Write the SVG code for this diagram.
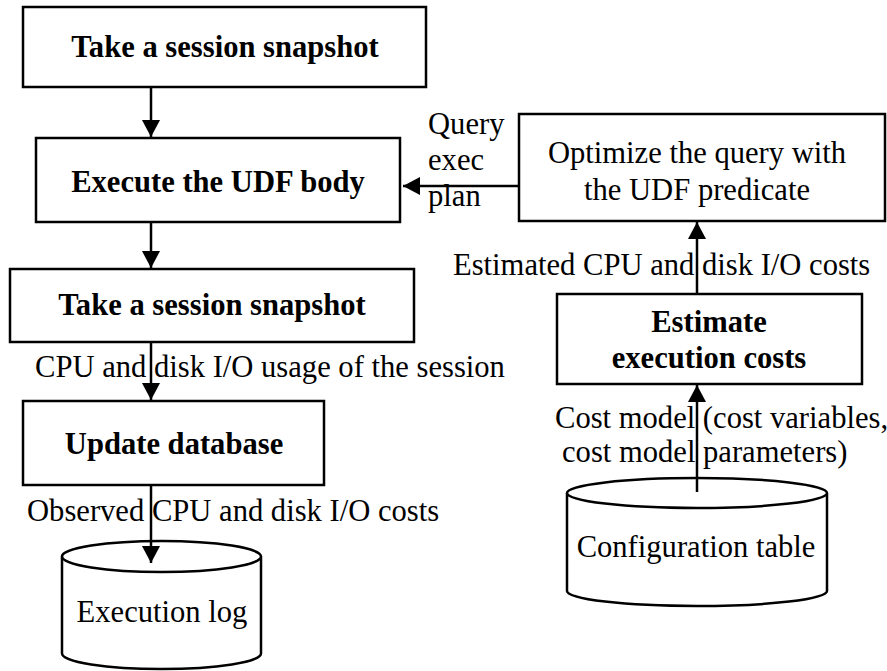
<svg xmlns="http://www.w3.org/2000/svg" width="887" height="671" viewBox="0 0 887 671">
<defs>
<style>
.box{fill:#fff;stroke:#000;stroke-width:2.5}
.cyl{fill:#fff;stroke:#000;stroke-width:2.5}
.t{font-family:"Liberation Serif","Times New Roman",serif;font-size:30.6px;fill:#000}
.b{font-weight:bold}
.m{text-anchor:middle}
.c{stroke:#000;stroke-width:2.5;fill:none;marker-end:url(#ah)}
</style>
<marker id="ah" markerUnits="userSpaceOnUse" viewBox="0 0 17 18" refX="17" refY="9" markerWidth="17" markerHeight="18" orient="auto">
<path d="M0,0 L17,9 L0,18 z" fill="#000"/>
</marker>
</defs>
<rect width="887" height="671" fill="#fff"/>
<g id="n1"><rect class="box" x="23" y="7" width="403" height="80"/><text class="t b m" x="225" y="57">Take a session snapshot</text></g>
<g id="n2"><rect class="box" x="36" y="138" width="364" height="84"/><text class="t b m" x="218" y="192">Execute the UDF body</text></g>
<g id="n3"><rect class="box" x="10" y="269" width="404" height="73"/><text class="t b m" x="212" y="315">Take a session snapshot</text></g>
<g id="n4"><rect class="box" x="23" y="401" width="301" height="84"/><text class="t b m" x="174" y="454">Update database</text></g>
<g id="log">
<path class="cyl" d="M62,556.5 L62,653.5 A99.5,15.5 0 0 0 261,653.5 L261,556.5"/>
<ellipse class="cyl" cx="161.5" cy="556.5" rx="99.5" ry="15.5"/>
<text class="t m" x="162" y="622">Execution log</text>
</g>
<g id="opt"><rect class="box" x="519" y="114" width="366" height="107"/><text class="t m" x="697" y="163">Optimize the query with</text><text class="t m" x="697" y="200">the UDF predicate</text></g>
<g id="est"><rect class="box" x="557" y="294" width="305" height="90"/><text class="t b m" x="709" y="332">Estimate</text><text class="t b m" x="709" y="368">execution costs</text></g>
<g id="cfg">
<path class="cyl" d="M567,493 L567,591 A130,15 0 0 0 827,591 L827,493"/>
<ellipse class="cyl" cx="697" cy="493" rx="130" ry="15"/>
<text class="t m" x="696" y="557">Configuration table</text>
</g>
<g id="labels">
<text class="t" x="428" y="134">Query</text>
<text class="t" x="428" y="170">exec</text>
<text class="t" x="428" y="206">plan</text>
<text class="t" x="453" y="275">Estimated CPU and disk I/O costs</text>
<text class="t" x="35" y="377">CPU and disk I/O usage of the session</text>
<text class="t" x="27" y="521">Observed CPU and disk I/O costs</text>
<text class="t" x="555" y="428">Cost model (cost variables,</text>
<text class="t" x="562" y="462">cost model parameters)</text>
</g>
<g id="connectors">
<line class="c" x1="151" y1="87" x2="151" y2="137"/>
<line class="c" x1="151" y1="222" x2="151" y2="268"/>
<line class="c" x1="151" y1="342" x2="151" y2="400"/>
<line class="c" x1="151" y1="485" x2="151" y2="563"/>
<line class="c" x1="519" y1="186" x2="403" y2="186"/>
<line class="c" x1="697" y1="294" x2="697" y2="222"/>
<line class="c" x1="697" y1="492" x2="697" y2="385"/>
</g>
</svg>
